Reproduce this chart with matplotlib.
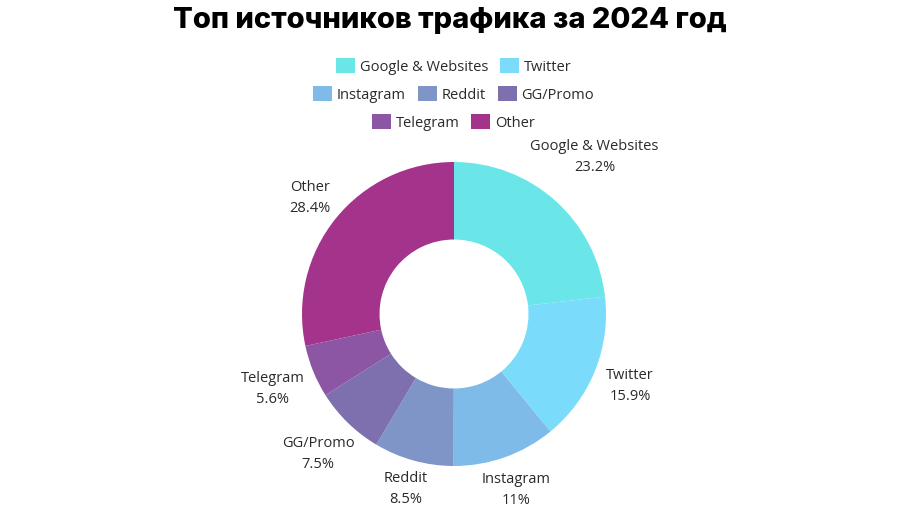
import numpy as np
import matplotlib
matplotlib.use('Agg')
import matplotlib.pyplot as plt
from matplotlib.patches import Patch

# data
sources = ['Google & Websites', 'Twitter', 'Instagram', 'Reddit', 'GG/Promo', 'Telegram', 'Other']
shares = [23.2, 15.9, 11, 8.5, 7.5, 5.6, 28.4]
share_labels = ['23.2%', '15.9%', '11%', '8.5%', '7.5%', '5.6%', '28.4%']
colors = ['#6ae6e8', '#7adcfa', '#7fbbe9', '#7f95c8', '#7e6fae', '#8c56a5', '#a3338b']
legend_rows = [[0, 1], [2, 3, 4], [5, 6]]

# distance of each outside label from the centre (in pie radii)
label_dist = [1.39, 1.25, 1.22, 1.19, 1.28, 1.29, 1.22]

plt.rcParams['font.family'] = ['Open Sans', 'DejaVu Sans']
fig = plt.figure(figsize=(9, 5.06), dpi=100)

# pie axes: centre at (454, 315) px, radius 152 px
cx, cy, R = 454, 315, 152
s = 2 * R * 1.6
ax = fig.add_axes([(cx - s / 2) / 900, 1 - (cy + s / 2) / 506, s / 900, s / 506])
wedges, _ = ax.pie(shares, colors=colors, startangle=90, counterclock=False,
                   wedgeprops=dict(width=0.51, linewidth=0))
ax.set_xlim(-1.6, 1.6)
ax.set_ylim(-1.6, 1.6)
ax.set_aspect('equal')
ax.axis('off')

# outside labels
for w, name, lab, r in zip(wedges, sources, share_labels, label_dist):
    ang = np.deg2rad((w.theta1 + w.theta2) / 2)
    ax.text(r * np.cos(ang), r * np.sin(ang), name + '\n' + lab, ha='center', va='center',
            fontsize=10.5, color='#2a2a2a', linespacing=1.55)

fig.text(0.5, 1 - 21 / 506, 'Топ источников трафика за 2024 год', ha='center', va='center',
         fontsize=21, fontweight='heavy', family=['Inter', 'DejaVu Sans'])

for row_y, row in zip([67, 95, 123], legend_rows):
    handles = [Patch(facecolor=colors[i], label=sources[i]) for i in row]
    fig.legend(handles=handles, loc='center', bbox_to_anchor=(0.504, 1 - row_y / 506),
               ncol=len(row), frameon=False, fontsize=10.5, handlelength=1.3, handleheight=1.3,
               handletextpad=0.35, columnspacing=0.8, borderpad=0, labelcolor='#2a2a2a')

fig.savefig('out.png', dpi=100)
